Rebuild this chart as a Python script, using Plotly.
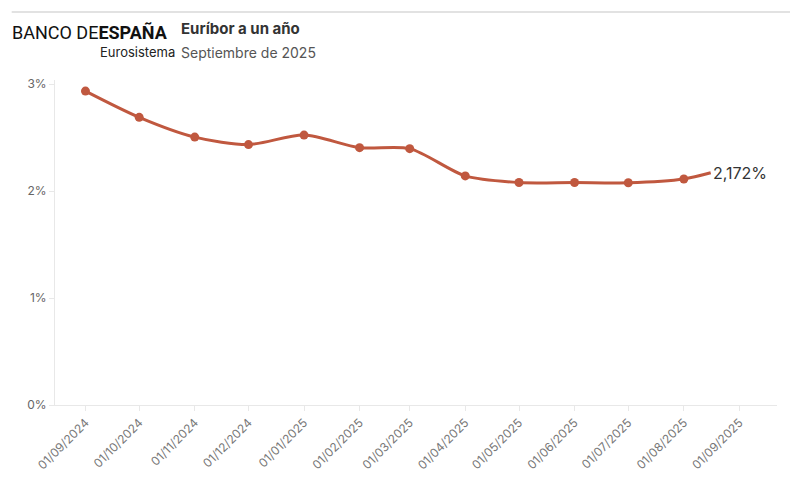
import plotly.graph_objects as go

# Euríbor a un año, media mensual (%)
fechas = ["2024-09-01", "2024-10-01", "2024-11-01", "2024-12-01",
          "2025-01-01", "2025-02-01", "2025-03-01", "2025-04-01",
          "2025-05-01", "2025-06-01", "2025-07-01", "2025-08-01"]
euribor = [2.936, 2.691, 2.506, 2.436, 2.525, 2.407, 2.398, 2.143,
           2.081, 2.081, 2.079, 2.114]
ultima_fecha = "2025-08-16"
ultimo_valor = 2.172
etiqueta_ultimo = "2,172%"

ticks_x = ["2024-09-01", "2024-10-01", "2024-11-01", "2024-12-01",
           "2025-01-01", "2025-02-01", "2025-03-01", "2025-04-01",
           "2025-05-01", "2025-06-01", "2025-07-01", "2025-08-01",
           "2025-09-01"]
ticks_x_text = ["01/09/2024", "01/10/2024", "01/11/2024", "01/12/2024",
                "01/01/2025", "01/02/2025", "01/03/2025", "01/04/2025",
                "01/05/2025", "01/06/2025", "01/07/2025", "01/08/2025",
                "01/09/2025"]
ticks_y = [0, 1, 2, 3]
ticks_y_text = ["0%", "1%", "2%", "3%"]

color = "#c0583f"

fig = go.Figure()
fig.add_trace(go.Scatter(x=fechas + [ultima_fecha],
                         y=euribor + [ultimo_valor],
                         mode="lines",
                         line=dict(color=color, width=3, shape="spline", smoothing=0.8),
                         hoverinfo="skip"))
fig.add_trace(go.Scatter(x=fechas, y=euribor, mode="markers",
                         marker=dict(color=color, size=9)))

fig.add_annotation(x=ultima_fecha, y=ultimo_valor, text=etiqueta_ultimo,
                   showarrow=False, xanchor="left", yanchor="middle", xshift=0,
                   font=dict(size=16, color="#333333"))

# cabecera
fig.add_shape(type="line", xref="paper", yref="paper",
              x0=-0.06, x1=1.018, y0=1.209, y1=1.209,
              line=dict(color="#d9d9d9", width=1.5))
fig.add_annotation(xref="paper", yref="paper", x=-0.062, y=1.145,
                   xanchor="left", yanchor="middle", showarrow=False,
                   text="BANCO DE<b>ESPAÑA</b>",
                   font=dict(family="Roboto", size=18, color="#111111"))
fig.add_annotation(xref="paper", yref="paper", x=0.06, y=1.086,
                   xanchor="left", yanchor="middle", showarrow=False,
                   text="Eurosistema",
                   font=dict(size=13, color="#222222"))
fig.add_annotation(xref="paper", yref="paper", x=0.172, y=1.16,
                   xanchor="left", yanchor="middle", showarrow=False,
                   text="<b>Euríbor a un año</b>",
                   font=dict(size=15, color="#333333"))
fig.add_annotation(xref="paper", yref="paper", x=0.172, y=1.086,
                   xanchor="left", yanchor="middle", showarrow=False,
                   text="Septiembre de 2025",
                   font=dict(size=14, color="#555555"))

# la página añade 8 px de margen al cuerpo
fig.update_layout(
    width=792, height=472,
    margin=dict(l=47, r=23, t=72, b=75),
    paper_bgcolor="white",
    plot_bgcolor="white",
    showlegend=False,
    font=dict(family="Inter", color="#666666"),
)
fig.update_xaxes(type="date", automargin=False,
                 range=["2024-08-15", "2025-09-22"],
                 tickvals=ticks_x, ticktext=ticks_x_text,
                 tickangle=-45, tickfont=dict(size=12, color="#777777"),
                 showgrid=False, zeroline=False,
                 showline=True, linecolor="#e8e8e8", linewidth=1,
                 ticks="outside", ticklen=5, tickcolor="#e8e8e8")
fig.update_yaxes(range=[0, 3.04], automargin=False,
                 tickvals=ticks_y, ticktext=ticks_y_text,
                 tickfont=dict(size=12, color="#666666"),
                 showgrid=False, zeroline=False,
                 showline=True, linecolor="#e8e8e8", linewidth=1,
                 ticks="outside", ticklen=5, tickcolor="#e8e8e8")

fig.write_html("out.html")
